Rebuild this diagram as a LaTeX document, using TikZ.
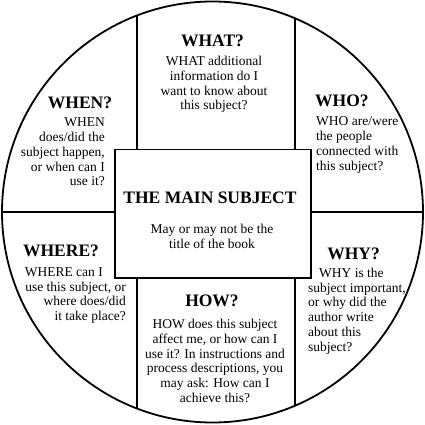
\documentclass[tikz,border=0pt]{standalone}
\usepackage{fontspec}
\setmainfont{Liberation Serif}
\begin{document}
\begin{tikzpicture}[x=1pt,y=-1pt,
  line/.style={line width=1.8pt, draw=black},
  head/.style={font=\fontsize{17.5}{20}\selectfont\bfseries, inner sep=0pt},
  body/.style={font=\fontsize{13.5}{14.8}\selectfont, inner sep=0pt},
]
\useasboundingbox[fill=white] (0,0) rectangle (425,425);
\node[line, circle, minimum size=421pt, inner sep=0pt, outer sep=0pt] (circ) at (212.5,212) {};
\draw[line] (circ.111.75) -- (circ.111.75 |- 0,149.5) coordinate (tl);
\draw[line] (circ.67.08) -- (circ.67.08 |- 0,149.5) coordinate (tr);
\draw[line] (circ.-111.75) -- (circ.-111.75 |- 0,278) coordinate (bl);
\draw[line] (circ.-67.08) -- (circ.-67.08 |- 0,278) coordinate (br);
\draw[line] (circ.west) -- (circ.east);
\node[line, fill=white, minimum width=196pt, minimum height=128.5pt, inner sep=0pt, outer sep=0pt] (main) at (213,213.75) {};

\node[head] (whathead) at (212.5,41) {WHAT?};
\node[body, align=center] (whatbody) at (214,84.5) {WHAT additional\\information do I\\want to know about\\this subject?};

\node[head] (whenhead) at (80,102.5) {WHEN?};
\node[body, align=right, anchor=east] (whenbody) at (105,152) {WHEN\\does/did the\\subject happen,\\or when can I\\use it?};

\node[head, anchor=west] (whohead) at (315,101) {WHO?};
\node[body, align=left, anchor=west] (whobody) at (316,145) {WHO are/were\\the people\\connected with\\this subject?};

\node[head] (wherehead) at (61,251) {WHERE?};
\node[body, align=right, anchor=east] (wherebody) at (126,295.5) {WHERE can I\hspace{23pt}\mbox{}\\use this subject, or\\where does/did\\it take place?};

\node[head] (howhead) at (212,301) {HOW?};
\node[body, align=center] (howbody) at (215,361) {HOW does this subject\\affect me, or how can I\\use it? In instructions and\\process descriptions, you\\may ask: How can I\\achieve this?};

\node[head] (whyhead) at (353.5,254) {WHY?};
\node[body, align=left, anchor=west] (whybody) at (308,311) {\hspace*{11pt}WHY is the\\subject important,\\or why did the\\author write\\about this\\subject?};

\node[head] (title) at (210,197.5) {THE MAIN SUBJECT};
\node[body, align=center] (sub) at (212,236.5) {May or may not be the\\title of the book};
\end{tikzpicture}
\end{document}
